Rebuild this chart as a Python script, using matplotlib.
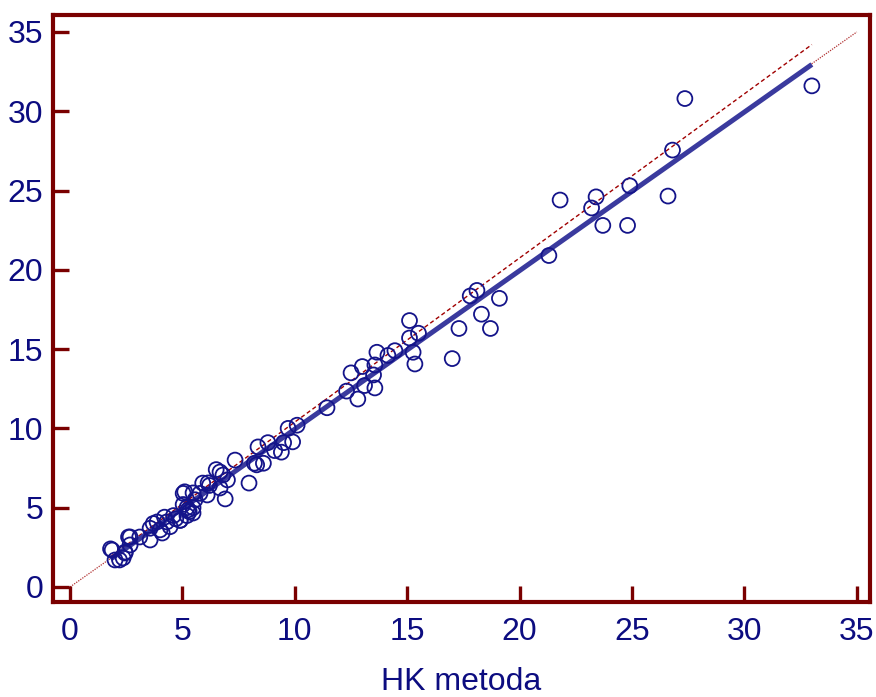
import numpy as np
import matplotlib
matplotlib.use("Agg")
import matplotlib.pyplot as plt

plt.rcParams["font.family"] = ["Liberation Sans", "DejaVu Sans"]

# points (x = HK metoda, y = other method)
hk = [1.8, 1.87, 2.0, 2.2, 2.45, 2.36, 2.6, 2.67, 3.1, 3.56, 3.7, 3.87, 4.0,
      4.2, 4.1, 4.45, 4.6, 4.9, 4.3, 4.7, 5.2, 5.47, 5.3, 5.56, 5.78, 5.03,
      5.9, 5.47, 5.1, 5.03, 5.47, 6.14, 6.2, 6.67, 6.9, 6.5, 6.67, 6.8, 7.0,
      7.34, 7.96, 8.36, 8.6, 8.3, 8.8, 9.1, 9.4, 9.5, 9.7, 9.9, 10.1, 11.43,
      12.3, 12.8, 13.1, 13.56, 13.5, 12.5, 13.0, 13.56, 13.65, 14.14, 14.45,
      15.26, 15.34, 15.1, 15.5, 15.1, 17.0, 17.3, 17.8, 18.1, 18.3, 18.7,
      19.1, 21.3, 21.8, 23.2, 23.4, 23.7, 24.8, 24.9, 26.6, 26.8, 27.35, 33.0,
      5.25, 4.9, 3.56, 2.67, 2.45, 8.2, 6.1, 5.2]
other = [2.4, 2.33, 1.7, 1.7, 2.2, 1.83, 3.15, 2.65, 3.15, 3.7, 4.0, 4.1, 3.6,
         4.4, 3.4, 3.8, 4.5, 4.2, 4.1, 4.3, 5.0, 4.66, 4.75, 5.5, 5.9, 5.9,
         6.55, 5.93, 6.0, 5.2, 5.0, 6.56, 6.4, 7.25, 5.55, 7.4, 6.24, 7.06, 6.75,
         8.0, 6.55, 8.83, 7.8, 7.7, 9.1, 8.6, 8.5, 9.1, 10.0, 9.15, 10.2, 11.3,
         12.35, 11.85, 12.7, 12.55, 13.37, 13.5, 13.9, 14.0, 14.8, 14.6, 14.9,
         14.8, 14.06, 15.7, 16.0, 16.8, 14.4, 16.3, 18.35, 18.7, 17.2, 16.3,
         18.2, 20.9, 24.4, 23.9, 24.6, 22.8, 22.8, 25.3, 24.65, 27.55, 30.8, 31.6,
         4.86, 4.2, 2.96, 3.15, 2.14, 7.8, 5.8, 4.5]

# fitted lines (intercept, slope)
fit_a, fit_b = -0.05, 1.0
dash_a, dash_b = 0.05, 1.035

navy = "#0c0c80"
maroon = "#7a0000"

fig = plt.figure(figsize=(8.76, 6.97), dpi=100)
ax = fig.add_axes([0.0605, 0.1363, 0.9325, 0.8422])

# identity line
ax.plot([0, 35], [0, 35], color="#b03030", lw=0.9, ls=(0, (1, 1)), zorder=1)

xs = np.array([min(hk), max(hk)])
ax.plot(xs, dash_a + dash_b * xs, color="#a00000", lw=1.0, ls=(0, (3, 2)), zorder=2)
ax.plot(xs, fit_a + fit_b * xs, color="#3a3a9e", lw=3.6, solid_capstyle="butt", zorder=3)

ax.scatter(hk, other, s=115, facecolors="none", edgecolors="#14148a", linewidths=1.3, zorder=4)

ax.set_xlim(-0.76, 35.58)
ax.set_ylim(-0.95, 36.07)
ax.set_xticks(range(0, 36, 5))
ax.set_yticks(range(0, 36, 5))

for s in ["left", "bottom", "top", "right"]:
    ax.spines[s].set_color(maroon)
    ax.spines[s].set_linewidth(3.0)

ax.tick_params(direction="in", length=11.5, width=2.4, color=maroon,
               labelcolor=navy, labelsize=23, pad=7)
ax.tick_params(axis="x", pad=11)

ax.set_xlabel("HK metoda", fontsize=23, color=navy, labelpad=14.5)

fig.savefig("out.png", dpi=100)
